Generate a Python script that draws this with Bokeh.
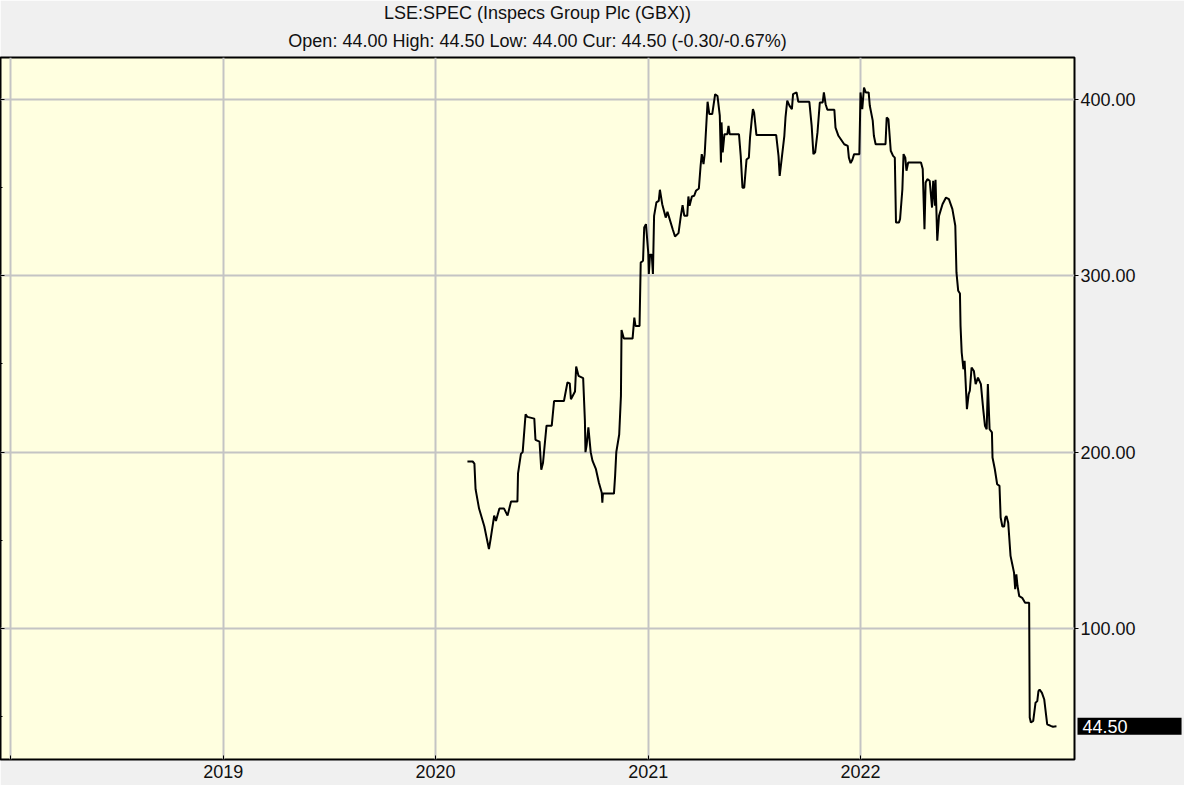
import pandas as pd
from bokeh.plotting import figure
from bokeh.models import (Title, Label, FixedTicker, PrintfTickFormatter,
                          DatetimeTickFormatter, Range1d, LinearAxis, ColumnDataSource)
from bokeh.embed import file_html
from bokeh.resources import INLINE

# ---------------- data ----------------
TITLE = "LSE:SPEC (Inspecs Group Plc (GBX))"
SUBTITLE = "Open: 44.00 High: 44.50 Low: 44.00 Cur: 44.50 (-0.30/-0.67%)"

year_ticks = ["2018-01-01", "2019-01-01", "2020-01-01", "2021-01-01", "2022-01-01"]
year_labels = ["", "2019", "2020", "2021", "2022"]
price_ticks = [100, 200, 300, 400]
price_minor = [50, 150, 250, 350]
last_price = 44.50
last_label = "44.50"

# days after 2020-01-01
day_offset = [
    55, 64, 67, 69, 75, 84, 92, 95, 101, 104, 110, 118, 124, 130, 141, 142, 147, 150, 155, 158,
    170, 172, 179, 182, 185, 191, 200, 204, 221, 227, 231, 233, 240, 242, 246, 254, 257, 258, 260, 263,
    267, 270, 276, 281, 286, 287, 288, 307, 309, 311, 316, 319, 320, 324, 339, 342, 344, 351, 353, 357,
    359, 362, 366, 367, 369, 372, 374, 376, 380, 384, 386, 390, 396, 399, 402, 408, 412, 418, 422, 425,
    428, 433, 435, 437, 441, 445, 448, 453, 456, 458, 461, 463, 468, 471, 476, 481, 485, 489, 491, 492,
    494, 497, 502, 504, 506, 522, 525, 528, 531, 535, 539, 541, 544, 546, 548, 552, 586, 590, 592, 596,
    600, 602, 605, 609, 613, 615, 621, 624, 643, 647, 650, 653, 657, 661, 666, 668, 671, 674, 686, 688,
    693, 703, 709, 711, 714, 717, 720, 729, 731, 734, 737, 740, 745, 747, 752, 754, 757, 774, 776, 779,
    783, 787, 790, 792, 797, 799, 803, 805, 808, 810, 813, 835, 838, 839, 841, 843, 846, 850, 854, 856,
    859, 860, 863, 866, 872, 878, 883, 889, 894, 896, 899, 902, 903, 905, 908, 910, 914, 917, 919, 922,
    926, 929, 933, 938, 942, 945, 948, 950, 953, 957, 958, 962, 966, 970, 972, 975, 978, 980, 982, 985,
    989, 992, 995, 997, 999, 1001, 1004, 1009, 1014, 1021, 1022, 1024, 1028, 1032, 1035, 1037, 1039, 1043,
    1047, 1050, 1052, 1058, 1062, 1068,
]
close = [
    194.7, 194.7, 193.5, 179.0, 168.0, 158.0, 145.0, 151.0, 164.0, 161.0, 168.0, 168.0, 164.0, 172.0, 172.0, 188.0, 199.0, 200.0, 221.5, 220.0,
    219.0, 207.0, 206.0, 190.0, 194.0, 215.0, 215.0, 229.0, 229.0, 239.5, 239.0, 230.0, 234.4, 248.6, 243.3, 242.0, 218.0, 200.0, 204.0, 214.0,
    200.0, 195.2, 190.3, 182.8, 177.0, 171.4, 176.5, 176.5, 186.7, 200.0, 210.0, 232.0, 269.3, 264.4, 264.4, 276.3, 271.6, 271.6, 307.5, 308.5,
    327.4, 329.3, 313.0, 301.0, 312.0, 312.0, 301.0, 334.0, 341.6, 342.5, 348.8, 340.6, 333.0, 336.3, 333.0, 326.4, 322.3, 324.2, 334.0, 340.0,
    334.0, 334.0, 345.0, 339.7, 345.0, 345.4, 348.2, 349.5, 362.4, 369.0, 363.3, 369.0, 398.7, 391.7, 391.7, 403.0, 402.0, 390.8, 364.3, 387.0,
    370.0, 380.3, 380.3, 385.0, 380.3, 380.3, 368.0, 350.0, 350.0, 366.0, 367.0, 378.4, 388.8, 394.5, 392.6, 379.8, 379.8, 368.0, 356.7, 368.0,
    379.4, 389.8, 399.3, 396.4, 394.5, 403.0, 404.0, 398.7, 398.7, 385.0, 369.0, 370.0, 381.3, 398.3, 398.3, 404.0, 397.3, 394.2, 394.2, 384.0,
    379.4, 374.6, 373.7, 367.0, 363.9, 365.8, 369.0, 369.0, 404.0, 394.5, 406.8, 404.0, 404.0, 396.4, 388.0, 379.4, 374.6, 374.6, 389.8, 388.8,
    370.9, 368.0, 367.0, 330.2, 330.2, 332.1, 349.1, 369.0, 367.0, 359.6, 364.3, 364.3, 360.5, 349.0, 326.4, 352.9, 354.8, 353.9, 338.7, 353.9,
    339.7, 354.5, 319.9, 334.0, 340.6, 344.4, 343.5, 337.8, 328.4, 301.9, 291.5, 290.0, 271.6, 256.5, 247.0, 251.8, 224.4, 232.9, 234.8, 248.0,
    246.0, 238.6, 242.3, 238.6, 224.4, 215.0, 213.0, 238.6, 213.0, 211.2, 197.0, 190.3, 181.8, 180.9, 162.9, 157.8, 157.8, 162.9, 163.8, 160.0,
    141.2, 136.4, 131.7, 122.3, 130.7, 124.1, 118.3, 117.4, 114.6, 114.6, 49.5, 46.7, 47.6, 57.9, 58.8, 64.5, 65.4, 63.5,
    59.7, 51.3, 45.7, 44.8, 44.3, 44.5,
]

# ---------------- build ----------------
def ms(ts):
    return pd.Timestamp(ts).value / 1e6

dates = pd.Timestamp("2020-01-01") + pd.to_timedelta(day_offset, unit="D")
src = ColumnDataSource(dict(date=dates, close=close))

x_start = ms("2017-12-14")
x_end = ms("2023-01-04")

FONT = "Liberation Sans"
FS = "18px"
TXT = "#111111"

p = figure(width=1184, height=785, x_axis_type="datetime", y_axis_location=None,
           x_range=Range1d(x_start, x_end), y_range=Range1d(25.7, 423.8),
           output_backend="svg", toolbar_location=None,
           min_border_left=0, min_border_right=110, min_border_top=0, min_border_bottom=26)

p.border_fill_color = "#f0f0f0"
p.background_fill_color = "#ffffe0"
p.outline_line_color = "black"
p.outline_line_width = 2

# titles (second line added first so it sits nearer the plot)
p.add_layout(Title(text=SUBTITLE, align="center", text_font=FONT, text_font_size=FS,
                   text_font_style="normal", text_color=TXT, standoff=13), "above")
p.add_layout(Title(text=TITLE, align="center", text_font=FONT, text_font_size=FS,
                   text_font_style="normal", text_color=TXT, standoff=0), "above")

# x axis
tick_ms = [ms(t) for t in year_ticks]
p.xaxis.ticker = FixedTicker(ticks=tick_ms)
p.xaxis.formatter = DatetimeTickFormatter(years="%Y", months="%Y", days="%Y")
p.xaxis.major_label_overrides = {t: lab for t, lab in zip(tick_ms, year_labels)}
p.xaxis.major_tick_in = 4
p.xaxis.major_tick_out = 0
p.xaxis.minor_tick_line_color = None
p.xaxis.axis_line_color = None
p.xaxis.major_tick_line_color = "black"
p.xaxis.major_label_standoff = 5
p.xaxis.major_label_text_font = FONT
p.xaxis.major_label_text_font_size = FS
p.xaxis.major_label_text_color = TXT

# right side, from the frame outwards:
# 1) tick marks only
tick_ax = LinearAxis(ticker=FixedTicker(ticks=price_ticks),
                     major_label_overrides={t: "" for t in price_ticks},
                     major_label_text_font_size="0px", major_label_standoff=0,
                     axis_line_color=None, major_tick_in=0, major_tick_out=4,
                     major_tick_line_color="black", minor_tick_line_color=None)
p.add_layout(tick_ax, "right")

# 2) last price tag (in a side panel so that it is not clipped to the frame)
p.add_layout(Label(x=x_end, y=last_price, x_offset=3, text=last_label,
                   text_color="white", text_font=FONT, text_font_size=FS,
                   text_baseline="middle", text_align="left",
                   background_fill_color="black",
                   padding=dict(left=5, right=54, top=2, bottom=2)), "right")

# 3) price labels, pulled back next to the ticks
label_ax = LinearAxis(ticker=FixedTicker(ticks=price_ticks),
                      formatter=PrintfTickFormatter(format="%.2f"),
                      axis_line_color=None, major_tick_in=0, major_tick_out=0,
                      major_tick_line_color=None, minor_tick_line_color=None,
                      major_label_standoff=-102,
                      major_label_text_font=FONT, major_label_text_font_size=FS,
                      major_label_text_color=TXT)
p.add_layout(label_ax, "right")

# left edge: inner tick marks only
left_ax = LinearAxis(ticker=FixedTicker(ticks=price_ticks, minor_ticks=price_minor),
                     major_label_overrides={t: "" for t in price_ticks},
                     major_label_text_font_size="0px",
                     major_label_standoff=0, axis_line_color=None,
                     major_tick_in=4, major_tick_out=0, major_tick_line_color="black",
                     minor_tick_in=2, minor_tick_out=0, minor_tick_line_color="black")
p.add_layout(left_ax, "left")

# grid
p.xgrid.ticker = FixedTicker(ticks=tick_ms)
p.ygrid.ticker = FixedTicker(ticks=price_ticks)
for g in (p.xgrid, p.ygrid):
    g.grid_line_color = "#c4c4c4"
    g.grid_line_width = 2

p.line("date", "close", source=src, line_color="black", line_width=2)

open("out.html", "w").write(file_html(p, INLINE))
